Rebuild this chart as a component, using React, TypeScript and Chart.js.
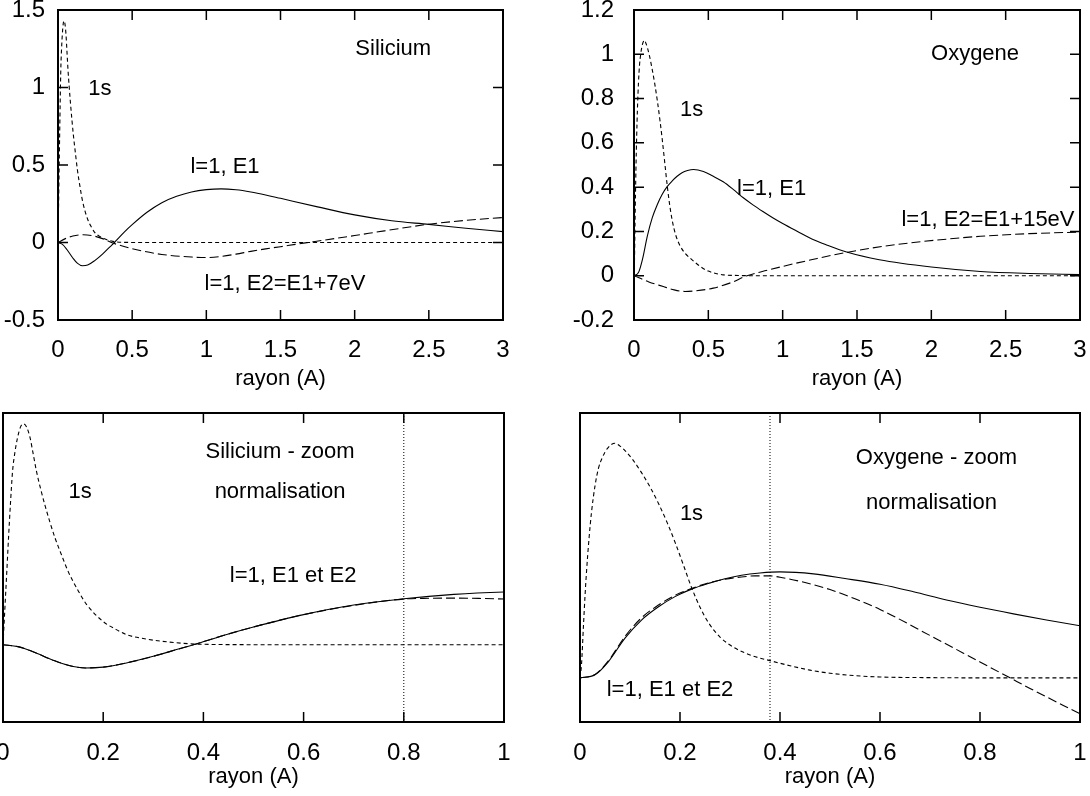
import React, { useEffect, useRef } from "react";
import { Chart, registerables } from "chart.js";

Chart.register(...registerables);

const FONT = "'Liberation Sans', Arial, Helvetica, sans-serif";

// ---------------- data: Silicium ----------------
const SI_1S_R = [0, 0.004, 0.008, 0.011, 0.015, 0.019, 0.024, 0.029, 0.035, 0.041, 0.047, 0.054, 0.06, 0.067, 0.075, 0.084, 0.094, 0.104, 0.117, 0.13, 0.15, 0.167, 0.2, 0.225, 0.247, 0.28, 0.33, 0.37, 0.45, 0.6, 1.0, 2.0, 3.0];
const SI_1S_V = [0, 0.25, 0.5, 0.69, 0.92, 1.12, 1.25, 1.34, 1.41, 1.43, 1.41, 1.34, 1.24, 1.12, 1.01, 0.9, 0.79, 0.69, 0.58, 0.475, 0.35, 0.26, 0.15, 0.1, 0.065, 0.04, 0.018, 0.007, 0.001, 0, 0, 0, 0];

const SI_E1_R = [0, 0.03, 0.06, 0.1, 0.13, 0.165, 0.2, 0.25, 0.3, 0.35, 0.38, 0.45, 0.5, 0.6, 0.7, 0.8, 0.9, 1.0, 1.1, 1.2, 1.3, 1.4, 1.5, 1.75, 2.0, 2.25, 2.5, 2.75, 3.0];
const SI_E1_V = [0, -0.012, -0.045, -0.1, -0.133, -0.15, -0.145, -0.115, -0.075, -0.028, 0, 0.07, 0.115, 0.195, 0.257, 0.298, 0.326, 0.341, 0.346, 0.34, 0.326, 0.307, 0.285, 0.23, 0.178, 0.14, 0.117, 0.092, 0.07];

const SI_E2_R = [0, 0.05, 0.1, 0.17, 0.25, 0.3, 0.36, 0.5, 0.7, 0.9, 1.0, 1.1, 1.2, 1.3, 1.4, 1.5, 1.6, 1.7, 1.8, 2.0, 2.2, 2.5, 2.75, 3.0];
const SI_E2_V = [0, 0.025, 0.042, 0.05, 0.04, 0.025, 0, -0.04, -0.077, -0.094, -0.097, -0.09, -0.075, -0.057, -0.041, -0.027, -0.012, 0.002, 0.016, 0.045, 0.075, 0.118, 0.143, 0.161];

const SI_E2N_R = [0, 0.03, 0.06, 0.1, 0.13, 0.165, 0.2, 0.25, 0.3, 0.35, 0.38, 0.45, 0.5, 0.6, 0.7, 0.8, 0.85, 0.9, 0.95, 1.0];
const SI_E2N_V = [0, -0.012, -0.045, -0.1, -0.133, -0.15, -0.145, -0.115, -0.075, -0.028, 0, 0.07, 0.115, 0.195, 0.255, 0.296, 0.301, 0.302, 0.3, 0.296];

const SI_NORM_R = 0.8;

// ---------------- data: Oxygene ----------------
const O_1S_R = [0, 0.003, 0.007, 0.01, 0.013, 0.018, 0.023, 0.03, 0.037, 0.045, 0.055, 0.07, 0.08, 0.09, 0.105, 0.123, 0.14, 0.157, 0.175, 0.19, 0.207, 0.223, 0.24, 0.257, 0.28, 0.31, 0.345, 0.38, 0.42, 0.46, 0.5, 0.55, 0.6, 0.7, 0.8, 1.5, 3.0];
const O_1S_V = [0, 0.06, 0.24, 0.37, 0.48, 0.63, 0.75, 0.87, 0.95, 1.0, 1.04, 1.063, 1.05, 1.03, 0.99, 0.93, 0.865, 0.79, 0.7, 0.615, 0.51, 0.41, 0.32, 0.25, 0.185, 0.135, 0.1, 0.078, 0.055, 0.035, 0.021, 0.01, 0.004, 0.001, 0, 0, 0];

const O_E1_R = [0, 0.03, 0.057, 0.09, 0.123, 0.157, 0.19, 0.223, 0.257, 0.29, 0.323, 0.36, 0.4, 0.467, 0.53, 0.6, 0.667, 0.733, 0.8, 0.867, 0.933, 1.0, 1.1, 1.2, 1.3, 1.43, 1.65, 2.0, 2.33, 2.66, 3.0];
const O_E1_V = [0, 0.014, 0.074, 0.18, 0.262, 0.322, 0.368, 0.402, 0.428, 0.449, 0.465, 0.475, 0.48, 0.471, 0.45, 0.424, 0.39, 0.353, 0.32, 0.29, 0.262, 0.236, 0.2, 0.165, 0.138, 0.107, 0.072, 0.039, 0.019, 0.01, 0.005];

const O_E2_R = [0, 0.1, 0.197, 0.27, 0.343, 0.42, 0.533, 0.65, 0.76, 0.9, 1.0, 1.1, 1.2, 1.3, 1.43, 1.6, 1.88, 2.1, 2.33, 2.66, 3.0];
const O_E2_V = [0, -0.028, -0.049, -0.064, -0.071, -0.068, -0.056, -0.032, 0, 0.025, 0.042, 0.058, 0.073, 0.088, 0.105, 0.125, 0.15, 0.165, 0.178, 0.19, 0.197];

const O_E2N_R = [0, 0.03, 0.057, 0.09, 0.123, 0.157, 0.19, 0.223, 0.257, 0.29, 0.323, 0.35, 0.38, 0.4, 0.45, 0.5, 0.55, 0.6, 0.7, 0.8, 0.86, 0.9, 1.0];
const O_E2N_V = [0, 0.015, 0.078, 0.188, 0.272, 0.33, 0.374, 0.405, 0.43, 0.447, 0.457, 0.462, 0.462, 0.456, 0.432, 0.4, 0.358, 0.31, 0.192, 0.072, 0, -0.048, -0.163];

const O_NORM_R = 0.38;

// ---------------- ticks ----------------
const X_TICKS_FULL = [0, 0.5, 1, 1.5, 2, 2.5, 3];
const X_TICKS_ZOOM = [0, 0.2, 0.4, 0.6, 0.8, 1];
const SI_Y_TICKS = [-0.5, 0, 0.5, 1, 1.5];
const O_Y_TICKS = [-0.2, 0, 0.2, 0.4, 0.6, 0.8, 1, 1.2];

const X_TITLE = "rayon (A)";

type Curve = { r: number[]; v: number[]; dash: number[] };
type Label = { text: string; x: number; y: number };

const DASH_1S = [4, 3];
const DASH_E2 = [9, 4];
const SOLID: number[] = [];

interface PanelProps {
  left: number;
  top: number;
  width: number;
  height: number;
  padTop: number;
  padRight: number;
  yAxisWidth: number;
  xAxisHeight: number;
  xMin: number;
  xMax: number;
  xTicks: number[];
  yMin: number;
  yMax: number;
  yTicks: number[];
  showY: boolean;
  curves: Curve[];
  labels: Label[];
  vline?: number;
  yTickPad: number;
  xTickPad: number;
}

const TICK_LEN = 10;
const TICK_FONT = 24;
const TEXT_FONT = 22;

function Panel(p: PanelProps) {
  const ref = useRef<HTMLCanvasElement>(null);
  useEffect(() => {
    const canvas = ref.current;
    if (!canvas) return;
    const decor = {
      id: "decor",
      afterDatasetsDraw(chart: any) {
        const { ctx, chartArea: a, scales } = chart;
        const xs = scales.x;
        const ys = scales.y;
        ctx.save();
        ctx.strokeStyle = "#000";
        if (p.vline !== undefined) {
          const px = xs.getPixelForValue(p.vline);
          ctx.setLineDash([1, 2]);
          ctx.lineWidth = 1;
          ctx.beginPath();
          ctx.moveTo(px, a.top);
          ctx.lineTo(px, a.bottom);
          ctx.stroke();
          ctx.setLineDash([]);
        }
        ctx.lineWidth = 1.5;
        ctx.beginPath();
        for (const t of p.xTicks) {
          const px = xs.getPixelForValue(t);
          ctx.moveTo(px, a.bottom);
          ctx.lineTo(px, a.bottom - TICK_LEN);
          ctx.moveTo(px, a.top);
          ctx.lineTo(px, a.top + TICK_LEN);
        }
        if (p.showY) {
          for (const t of p.yTicks) {
            const py = ys.getPixelForValue(t);
            ctx.moveTo(a.left, py);
            ctx.lineTo(a.left + TICK_LEN, py);
            ctx.moveTo(a.right, py);
            ctx.lineTo(a.right - TICK_LEN, py);
          }
        }
        ctx.stroke();
        ctx.lineWidth = 2;
        ctx.strokeRect(a.left, a.top, a.right - a.left, a.bottom - a.top);
        ctx.font = `${TEXT_FONT}px ${FONT}`;
        ctx.fillStyle = "#000";
        ctx.textAlign = "center";
        ctx.textBaseline = "middle";
        for (const l of p.labels) {
          ctx.fillText(l.text, xs.getPixelForValue(l.x), ys.getPixelForValue(l.y));
        }
        ctx.restore();
      },
    };

    const chart = new Chart(canvas, {
      type: "line",
      data: {
        datasets: p.curves.map((c) => ({
          data: c.r.map((r, i) => ({ x: r, y: c.v[i] })),
          borderColor: "#000",
          borderWidth: 1.1,
          borderDash: c.dash,
          pointRadius: 0,
          fill: false,
          cubicInterpolationMode: "monotone" as const,
        })),
      },
      options: {
        responsive: false,
        animation: false,
        events: [],
        layout: { padding: { left: 0, top: p.padTop, right: p.padRight, bottom: 0 } },
        plugins: { legend: { display: false }, tooltip: { enabled: false } },
        scales: {
          x: {
            type: "linear",
            min: p.xMin,
            max: p.xMax,
            grid: { display: false },
            border: { display: false },
            afterBuildTicks: (s: any) => {
              s.ticks = p.xTicks.map((v) => ({ value: v }));
            },
            ticks: {
              autoSkip: false,
              maxRotation: 0,
              padding: p.xTickPad,
              color: "#000",
              font: { size: TICK_FONT, family: FONT },
              callback: (v: any) => String(v),
            },
            title: {
              display: true,
              text: X_TITLE,
              color: "#000",
              font: { size: TEXT_FONT, family: FONT },
              padding: { top: 0, bottom: 6 },
            },
            afterFit: (s: any) => {
              s.height = p.xAxisHeight;
              s.paddingLeft = 0;
              s.paddingRight = 0;
            },
          },
          y: {
            type: "linear",
            min: p.yMin,
            max: p.yMax,
            grid: { display: false },
            border: { display: false },
            afterBuildTicks: (s: any) => {
              s.ticks = p.yTicks.map((v) => ({ value: v }));
            },
            ticks: {
              display: p.showY,
              autoSkip: false,
              padding: p.yTickPad,
              color: "#000",
              font: { size: TICK_FONT, family: FONT },
              callback: (v: any) => String(v),
            },
            afterFit: (s: any) => {
              s.width = p.yAxisWidth;
              s.paddingTop = 0;
              s.paddingBottom = 0;
            },
          },
        },
      },
      plugins: [decor],
    } as any);
    return () => chart.destroy();
  }, []);
  return (
    <canvas
      ref={ref}
      width={p.width}
      height={p.height}
      style={{ position: "absolute", left: p.left, top: p.top, width: p.width, height: p.height }}
    />
  );
}

export default function App() {
  return (
    <div
      style={{
        position: "fixed",
        left: 0,
        top: 0,
        width: 1090,
        height: 796,
        overflow: "hidden",
        background: "#fff",
      }}
    >
      <Panel
        left={0}
        top={0}
        width={545}
        height={398}
        padTop={10}
        padRight={42}
        yAxisWidth={58}
        xAxisHeight={78}
        xMin={0}
        xMax={3}
        xTicks={X_TICKS_FULL}
        yMin={-0.5}
        yMax={1.5}
        yTicks={SI_Y_TICKS}
        showY={true}
        yTickPad={5}
        xTickPad={8}
        curves={[
          { r: SI_1S_R, v: SI_1S_V, dash: DASH_1S },
          { r: SI_E1_R, v: SI_E1_V, dash: SOLID },
          { r: SI_E2_R, v: SI_E2_V, dash: DASH_E2 },
        ]}
        labels={[
          { text: "Silicium", x: 2.26, y: 1.25 },
          { text: "1s", x: 0.283, y: 0.99 },
          { text: "l=1, E1", x: 1.126, y: 0.49 },
          { text: "l=1, E2=E1+7eV", x: 1.53, y: -0.265 },
        ]}
      />
      <Panel
        left={545}
        top={0}
        width={545}
        height={398}
        padTop={10}
        padRight={10}
        yAxisWidth={89}
        xAxisHeight={78}
        xMin={0}
        xMax={3}
        xTicks={X_TICKS_FULL}
        yMin={-0.2}
        yMax={1.2}
        yTicks={O_Y_TICKS}
        showY={true}
        yTickPad={12}
        xTickPad={8}
        curves={[
          { r: O_1S_R, v: O_1S_V, dash: DASH_1S },
          { r: O_E1_R, v: O_E1_V, dash: SOLID },
          { r: O_E2_R, v: O_E2_V, dash: DASH_E2 },
        ]}
        labels={[
          { text: "Oxygene", x: 2.294, y: 1.0 },
          { text: "1s", x: 0.388, y: 0.747 },
          { text: "l=1, E1", x: 0.926, y: 0.394 },
          { text: "l=1, E2=E1+15eV", x: 2.381, y: 0.253 },
        ]}
      />
      <Panel
        left={0}
        top={398}
        width={545}
        height={398}
        padTop={15}
        padRight={41}
        yAxisWidth={3}
        xAxisHeight={74}
        xMin={0}
        xMax={1}
        xTicks={X_TICKS_ZOOM}
        yMin={-0.5}
        yMax={1.5}
        yTicks={SI_Y_TICKS}
        showY={false}
        yTickPad={5}
        xTickPad={9}
        vline={SI_NORM_R}
        curves={[
          { r: SI_1S_R, v: SI_1S_V, dash: DASH_1S },
          { r: SI_E1_R, v: SI_E1_V, dash: SOLID },
          { r: SI_E2N_R, v: SI_E2N_V, dash: DASH_E2 },
        ]}
        labels={[
          { text: "Silicium - zoom", x: 0.553, y: 1.245 },
          { text: "normalisation", x: 0.553, y: 0.99 },
          { text: "1s", x: 0.154, y: 0.99 },
          { text: "l=1, E1 et E2", x: 0.579, y: 0.447 },
        ]}
      />
      <Panel
        left={545}
        top={398}
        width={545}
        height={398}
        padTop={15}
        padRight={10}
        yAxisWidth={35}
        xAxisHeight={74}
        xMin={0}
        xMax={1}
        xTicks={X_TICKS_ZOOM}
        yMin={-0.2}
        yMax={1.2}
        yTicks={O_Y_TICKS}
        showY={false}
        yTickPad={5}
        xTickPad={9}
        vline={O_NORM_R}
        curves={[
          { r: O_1S_R, v: O_1S_V, dash: DASH_1S },
          { r: O_E1_R, v: O_E1_V, dash: SOLID },
          { r: O_E2N_R, v: O_E2N_V, dash: DASH_E2 },
        ]}
        labels={[
          { text: "Oxygene - zoom", x: 0.713, y: 0.997 },
          { text: "normalisation", x: 0.703, y: 0.794 },
          { text: "1s", x: 0.223, y: 0.743 },
          { text: "l=1, E1 et E2", x: 0.18, y: -0.054 },
        ]}
      />
    </div>
  );
}
